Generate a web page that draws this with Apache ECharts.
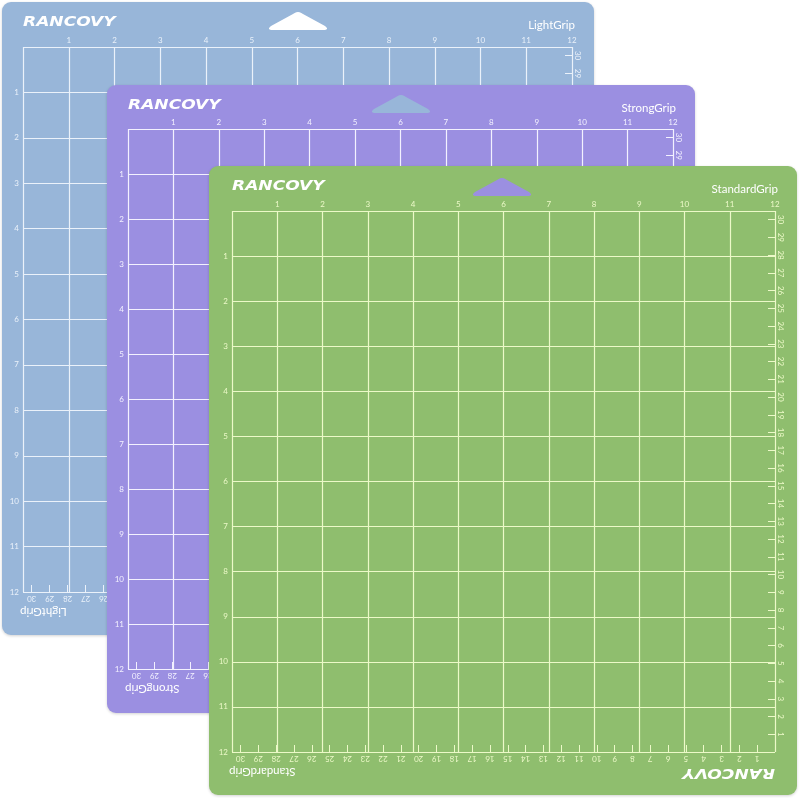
<!DOCTYPE html>
<html>
<head>
<meta charset="utf-8">
<script src="https://cdn.jsdelivr.net/npm/echarts@6/dist/echarts.min.js"></script>
<style>
html,body{margin:0;padding:0;background:#ffffff;}
#chart{width:800px;height:798px;}
</style>
</head>
<body>
<div id="chart"></div>
<script>
// ---- data ----
const inchLabels = ['1','2','3','4','5','6','7','8','9','10','11','12'];
const cmLabels = ['1','2','3','4','5','6','7','8','9','10','11','12','13','14','15','16','17','18','19','20','21','22','23','24','25','26','27','28','29','30'];
const gripNames = ['LightGrip', 'StrongGrip', 'StandardGrip'];
const brandName = 'RANCOVY';
const inchMax = 12;
const cmMax = 30.48; // 12 inches in cm

// ---- layout / style (not data) ----
const mats = [
  { rect: [2, 2, 592, 633], grid: [23, 47, 549, 545], bg: '#98b6d9', line: '#eaf1fa', notchCx: 298, notchBy: 30, notchFill: '#ffffff' },
  { rect: [107, 85, 588, 628], grid: [128, 129, 545, 540], bg: '#9b8fe1', line: '#f3f1ff', notchCx: 401, notchBy: 113, notchFill: '#98b6d9' },
  { rect: [209, 166, 588, 629], grid: [232, 211, 543, 541], bg: '#8fbe6e', line: '#ecf9c8', notchCx: 502, notchBy: 196, notchFill: '#9b8fe1' }
];

const grids = [], xAxes = [], yAxes = [], graphics = [];
const labelFont = 'Lato';

function quad(p0, p1, p2, n, out) {
  for (let k = 0; k <= n; k++) {
    const t = k / n, a = (1 - t) * (1 - t), b = 2 * (1 - t) * t, c = t * t;
    out.push([a * p0[0] + b * p1[0] + c * p2[0], a * p0[1] + b * p1[1] + c * p2[1]]);
  }
}
function notchPoints(cx, by) {
  const pts = [];
  quad([cx - 25, by], [cx - 32, by], [cx - 27, by - 4], 6, pts);
  quad([cx - 5, by - 16], [cx, by - 20], [cx + 5, by - 16], 6, pts);
  quad([cx + 27, by - 4], [cx + 32, by], [cx + 25, by], 6, pts);
  return pts;
}

mats.forEach((m, i) => {
  const zb = i * 10 + 1;
  const [gl, gt, gw, gh] = m.grid;
  grids.push({ left: gl, top: gt, width: gw, height: gh, containLabel: false });

  const labelBase = { fontSize: 8, color: m.line, fontFamily: labelFont };

  xAxes.push({
    gridIndex: i, type: 'value', position: 'top', min: 0, max: inchMax, interval: 1, z: zb + 2,
    axisLine: { show: false }, axisTick: { show: false },
    axisLabel: Object.assign({}, labelBase, { margin: 3, showMinLabel: true, showMaxLabel: true,
      formatter: v => inchLabels[v - 1] || '' }),
    splitLine: { show: true, showMinLine: true, showMaxLine: true, lineStyle: { color: m.line, width: 1.2 } }
  });
  xAxes.push({
    gridIndex: i, type: 'value', position: 'bottom', min: 0, max: cmMax, interval: 1, inverse: true, z: zb + 2,
    axisLine: { show: false },
    axisTick: { show: true, inside: true, length: 7, lineStyle: { color: m.line, width: 1 } },
    axisLabel: Object.assign({}, labelBase, { margin: 3, rotate: 180, showMinLabel: true, showMaxLabel: true,
      formatter: v => cmLabels[v - 1] || '' }),
    splitLine: { show: false }
  });
  yAxes.push({
    gridIndex: i, type: 'value', position: 'left', min: 0, max: inchMax, interval: 1, inverse: true, z: zb + 2,
    axisLine: { show: false }, axisTick: { show: false },
    axisLabel: Object.assign({}, labelBase, { margin: 4, showMinLabel: true, showMaxLabel: true,
      formatter: v => inchLabels[v - 1] || '' }),
    splitLine: { show: true, showMinLine: true, showMaxLine: true, lineStyle: { color: m.line, width: 1.2 } }
  });
  yAxes.push({
    gridIndex: i, type: 'value', position: 'right', min: 0, max: cmMax, interval: 1, z: zb + 2,
    axisLine: { show: false },
    axisTick: { show: true, inside: true, length: 7, lineStyle: { color: m.line, width: 1 } },
    axisLabel: Object.assign({}, labelBase, { margin: 2, rotate: -90, showMinLabel: true, showMaxLabel: true,
      formatter: v => cmLabels[v - 1] || '' }),
    splitLine: { show: false }
  });

  const [rx, ry, rw, rh] = m.rect;
  graphics.push({ type: 'rect', z: zb, shape: { x: rx, y: ry, width: rw, height: rh, r: 9 },
    style: { fill: m.bg, shadowBlur: 3, shadowColor: 'rgba(0,0,0,0.18)', shadowOffsetY: 1 } });
  graphics.push({ type: 'polygon', z: zb + 1, shape: { points: notchPoints(m.notchCx, m.notchBy) },
    style: { fill: m.notchFill } });
  // brand logo top-left
  graphics.push({ type: 'text', z: zb + 3, x: gl, y: ry + 20, scaleX: 1.22,
    style: { text: brandName, fill: '#ffffff', font: 'italic bold 14px "DejaVu Sans"', textAlign: 'left', textVerticalAlign: 'middle' } });
  // grip name top-right
  graphics.push({ type: 'text', z: zb + 3, x: gl + gw + 3, y: ry + 23,
    style: { text: gripNames[i], fill: '#ffffff', font: '11.5px Lato', textAlign: 'right', textVerticalAlign: 'middle' } });
  // grip name bottom-left, upside down
  graphics.push({ type: 'text', z: zb + 3, x: gl - 3, y: gt + gh + 20, rotation: Math.PI,
    style: { text: gripNames[i], fill: '#ffffff', font: '11.5px Lato', textAlign: 'right', textVerticalAlign: 'middle' } });
  // brand logo bottom-right, upside down
  graphics.push({ type: 'text', z: zb + 3, x: gl + gw, y: gt + gh + 21, rotation: Math.PI, scaleX: 1.22,
    style: { text: brandName, fill: '#ffffff', font: 'italic bold 14px "DejaVu Sans"', textAlign: 'left', textVerticalAlign: 'middle' } });
});

const chart = echarts.init(document.getElementById('chart'), null, { renderer: 'canvas' });
chart.setOption({
  animation: false,
  backgroundColor: '#ffffff',
  grid: grids,
  xAxis: xAxes,
  yAxis: yAxes,
  graphic: { elements: graphics },
  series: []
});
</script>
</body>
</html>
